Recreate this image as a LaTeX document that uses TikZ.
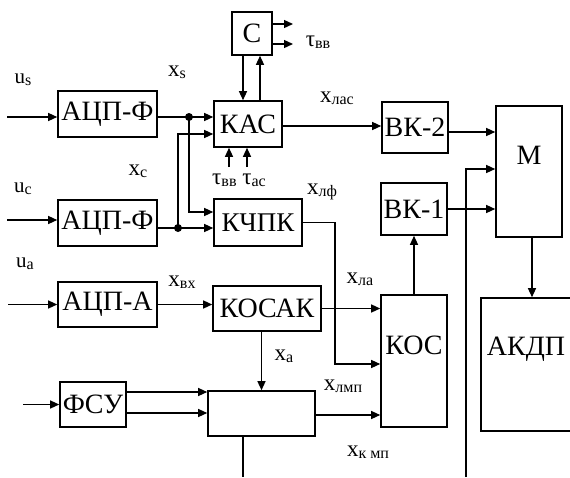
\documentclass[tikz,border=0pt]{standalone}
\usepackage{fontspec}
\setmainfont{Liberation Serif}
\usetikzlibrary{arrows.meta}
\newcommand\bigx{\fontsize{23}{23}\selectfont}
\newcommand\sbx[1]{\raisebox{-0.2ex}{\fontsize{16}{16}\selectfont #1}}
\begin{document}
\begin{tikzpicture}[x=1pt,y=-1pt, line width=1.3pt,
  >={Triangle[length=9pt,width=8pt]},
  blk/.style={draw, line width=1.6pt, inner sep=0pt, font=\fontsize{28}{28}\selectfont},
  txt/.style={inner sep=0pt, font=\fontsize{28}{28}\selectfont},
  lbl/.style={inner sep=0pt, font=\bigx},
  dot/.style={circle, fill, inner sep=0pt, minimum size=8pt}]
\useasboundingbox (0,0) rectangle (570,477);

% blocks
\node[blk, minimum width=40pt, minimum height=43pt] (C) at (252,33.5) {С};
\node[blk, minimum width=99pt, minimum height=46pt] (A1) at (107.5,114) {АЦП-Ф};
\node[blk, minimum width=68pt, minimum height=46pt] (KAS) at (248,124) {КАС};
\node[blk, minimum width=66pt, minimum height=51pt] (BK2) at (415,127.5) {ВК-2};
\node[blk, minimum width=66pt, minimum height=131pt] (M) at (529,171.5) {};
\node[txt] (Mt) at (529,155) {М};
\node[blk, minimum width=99pt, minimum height=46pt] (A2) at (107.5,223) {АЦП-Ф};
\node[blk, minimum width=88pt, minimum height=47pt, font=\fontsize{27}{27}\selectfont] (KCPK) at (258,222.5) {КЧПК};
\node[blk, minimum width=66pt, minimum height=52pt] (BK1) at (414,209) {ВК-1};
\node[blk, minimum width=99pt, minimum height=45pt] (A3) at (107.5,304.5) {АЦП-А};
\node[blk, minimum width=108pt, minimum height=45pt] (KOCAK) at (267,308.5) {КОСАК};
\node[blk, minimum width=66pt, minimum height=132pt] (KOC) at (414,361) {};
\node[txt] (KOCt) at (414,345) {КОС};
\node[blk, minimum width=92pt, minimum height=133pt] (AKDP) at (527,364.5) {};
\node[txt] (AKDPt) at (526,349) {АКДП};
\node[blk, minimum width=66pt, minimum height=45pt] (FSU) at (93,404.5) {ФСУ};
\node[blk, minimum width=107pt, minimum height=45pt] (Big) at (261.5,413.5) {};

% free ends
\coordinate (us0) at (7,117);
\coordinate (uc0) at (7,220);
\coordinate (ua0) at (8,304.5);
\coordinate (fs0) at (23,404.5);
\coordinate (co1) at (293,24);
\coordinate (co2) at (293,44);
\coordinate (t1) at (229,167);
\coordinate (t2) at (247,167);
\coordinate (bend) at (335,0);
\coordinate (lv) at (466,477);
\coordinate (bb) at (243,477);

% inputs
\draw[->] (us0) -- (us0 -| A1.west);
\draw[->] (uc0) -- (uc0 -| A2.west);
\draw[->] (ua0) -- (ua0 -| A3.west);
\draw[->] (fs0) -- (FSU.west);

% A1 -> KAS, KCPK
\node[dot] (d1) at (189,117) {};
\draw ([yshift=-3pt]A1.east) -- (d1.center);
\draw[->] (d1.center) -- ([yshift=7pt]KAS.west);
\draw[->] (d1.center) |- ([yshift=10.5pt]KCPK.west);
% A2 -> KCPK, KAS
\node[dot] (d2) at (178,228) {};
\draw ([yshift=-5pt]A2.east) -- (d2.center);
\draw[->] (d2.center) -- ([yshift=-5.5pt]KCPK.west);
\draw[->] (d2.center) |- ([yshift=-10pt]KAS.west);

% C <-> KAS
\draw[->] ([xshift=-9pt]C.south) -- ([xshift=-9pt]C.south |- KAS.north);
\draw[->] ([xshift=8pt]C.south |- KAS.north) -- ([xshift=8pt]C.south);
\draw[->] (C.east |- co1) -- (co1);
\draw[->] (C.east |- co2) -- (co2);
\draw[->] (t1) -- (t1 |- KAS.south);
\draw[->] (t2) -- (t2 |- KAS.south);

% KAS -> BK2 -> M
\draw[->] ([yshift=-2pt]KAS.east) -- ([yshift=-2pt]KAS.east -| BK2.west);
\draw[->] ([yshift=-4.5pt]BK2.east) -- ([yshift=-4.5pt]BK2.east -| M.west);
\draw[->] (BK1.east) -- (BK1.east -| M.west);
\draw[->] (lv) |- ([yshift=2.5pt]M.west);
\draw[->] ([xshift=3pt]M.south) -- ([xshift=3pt]M.south |- AKDP.north);

% A3 -> KOCAK -> KOC
\draw[->] (A3.east) -- (A3.east -| KOCAK.west);
\draw[->] (KOCAK.east) -- (KOCAK.east -| KOC.west);
\draw[->] (KCPK.east) -- (KCPK.east -| bend) |- ([yshift=-3pt]KOC.west);
\draw[->] (KOC.north) -- (BK1.south);
\draw[->] (KOCAK.south -| Big.north) -- (Big.north);

% FSU -> Big -> KOC
\draw[->] ([yshift=12.5pt]FSU.east) -- ([yshift=12.5pt]FSU.east -| Big.west);
\draw[->] ([yshift=-8.5pt]FSU.east) -- ([yshift=-8.5pt]FSU.east -| Big.west);
\draw[->] ([yshift=-1.5pt]Big.east) -- ([yshift=-1.5pt]Big.east -| KOC.west);
\draw (bb |- Big.south) -- (bb);

% labels
\node[lbl, font=\fontsize{21}{21}\selectfont] (lus) at (23,80) {u\sbx{s}};
\node[lbl] (lxs) at (177,72) {x\sbx{s}};
\node[lbl] (ltC) at (318,42) {τ\sbx{вв}};
\node[lbl] (lxlas) at (337,98) {x\sbx{лас}};
\node[lbl, font=\fontsize{21}{21}\selectfont] (luc) at (23,189) {u\sbx{c}};
\node[lbl] (lxc) at (138,171) {x\sbx{c}};
\node[lbl] (ltt) at (239,180) {τ\sbx{вв} τ\sbx{ас}};
\node[lbl] (lxlf) at (322,192) {x\sbx{лф}};
\node[lbl, font=\fontsize{21}{21}\selectfont] (lua) at (25,264) {u\sbx{a}};
\node[lbl] (lxvx) at (182,282) {x\sbx{вх}};
\node[lbl] (lxla) at (360,279) {x\sbx{ла}};
\node[lbl] (lxa) at (284,356) {x\sbx{a}};
\node[lbl] (lxlmp) at (343,386) {x\sbx{лмп}};
\node[lbl] (lxkmp) at (368,452) {x\sbx{к мп}};
\end{tikzpicture}
\end{document}
